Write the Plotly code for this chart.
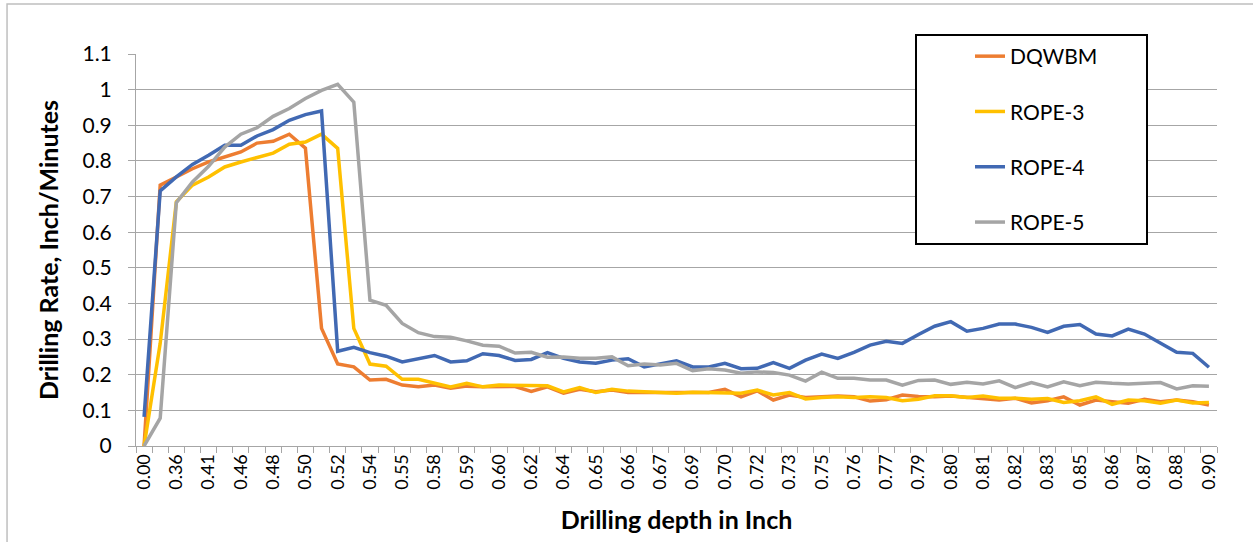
import plotly.graph_objects as go

depth = ["0.00", "0.20", "0.36", "0.39", "0.41", "0.44", "0.46", "0.47", "0.48", "0.49",
         "0.50", "0.51", "0.52", "0.53", "0.54", "0.54", "0.55", "0.57", "0.58", "0.58",
         "0.59", "0.60", "0.60", "0.61", "0.62", "0.63", "0.64", "0.64", "0.65", "0.66",
         "0.66", "0.67", "0.67", "0.68", "0.69", "0.70", "0.70", "0.71", "0.72", "0.73",
         "0.73", "0.74", "0.75", "0.75", "0.76", "0.77", "0.77", "0.78", "0.79", "0.79",
         "0.80", "0.80", "0.81", "0.82", "0.82", "0.83", "0.83", "0.84", "0.85", "0.85",
         "0.86", "0.87", "0.87", "0.88", "0.88", "0.89", "0.90"]

dqwbm = [0, 0.732, 0.755, 0.778, 0.797, 0.811, 0.825, 0.85, 0.855, 0.875,
         0.836, 0.33, 0.23, 0.222, 0.185, 0.187, 0.171, 0.166, 0.171, 0.162,
         0.168, 0.166, 0.166, 0.167, 0.153, 0.166, 0.148, 0.159, 0.152, 0.157,
         0.15, 0.15, 0.15, 0.15, 0.148, 0.15, 0.159, 0.138, 0.155, 0.129,
         0.143, 0.136, 0.138, 0.14, 0.138, 0.126, 0.13, 0.143, 0.139, 0.138,
         0.14, 0.136, 0.132, 0.129, 0.134, 0.121, 0.127, 0.138, 0.115, 0.129,
         0.124, 0.12, 0.131, 0.124, 0.129, 0.124, 0.115]

rope3 = [0, 0.288, 0.685, 0.732, 0.755, 0.783, 0.797, 0.809, 0.822, 0.847,
         0.853, 0.875, 0.835, 0.33, 0.23, 0.224, 0.187, 0.187, 0.176, 0.166,
         0.176, 0.166, 0.171, 0.17, 0.168, 0.169, 0.152, 0.164, 0.15, 0.159,
         0.154, 0.152, 0.15, 0.148, 0.151, 0.15, 0.148, 0.148, 0.157, 0.143,
         0.15, 0.132, 0.136, 0.138, 0.136, 0.138, 0.136, 0.127, 0.131, 0.141,
         0.141, 0.136, 0.14, 0.134, 0.134, 0.131, 0.133, 0.122, 0.127, 0.138,
         0.117, 0.129, 0.127, 0.12, 0.129, 0.121, 0.122]

rope4 = [0.082, 0.716, 0.755, 0.79, 0.816, 0.844, 0.844, 0.87, 0.888, 0.914,
         0.93, 0.94, 0.266, 0.277, 0.262, 0.252, 0.236, 0.244, 0.254, 0.236,
         0.239, 0.259, 0.254, 0.24, 0.243, 0.262, 0.246, 0.236, 0.232, 0.241,
         0.245, 0.222, 0.23, 0.239, 0.222, 0.222, 0.232, 0.217, 0.218, 0.234,
         0.218, 0.241, 0.258, 0.246, 0.263, 0.283, 0.294, 0.288, 0.313, 0.336,
         0.349, 0.322, 0.33, 0.342, 0.342, 0.333, 0.319, 0.336, 0.341, 0.314,
         0.309, 0.328, 0.314, 0.288, 0.263, 0.26, 0.221]

rope5 = [0, 0.078, 0.683, 0.741, 0.785, 0.839, 0.875, 0.893, 0.925, 0.947,
         0.975, 0.998, 1.015, 0.965, 0.409, 0.395, 0.344, 0.318, 0.307, 0.305,
         0.295, 0.283, 0.28, 0.261, 0.263, 0.249, 0.25, 0.246, 0.246, 0.25,
         0.225, 0.23, 0.227, 0.232, 0.211, 0.217, 0.213, 0.204, 0.208, 0.206,
         0.199, 0.182, 0.207, 0.19, 0.19, 0.185, 0.185, 0.171, 0.184, 0.185,
         0.173, 0.179, 0.174, 0.183, 0.164, 0.178, 0.166, 0.18, 0.169, 0.179,
         0.176, 0.174, 0.176, 0.178, 0.16, 0.169, 0.168]

series_names = ["DQWBM", "ROPE-3", "ROPE-4", "ROPE-5"]
series_values = [dqwbm, rope3, rope4, rope5]
series_colors = ["#ED7D31", "#FFC000", "#4169B3", "#A5A5A5"]

x_idx = list(range(len(depth)))
tick_idx = x_idx[::2]
tick_txt = depth[::2]

FONT = "Lato, 'Open Sans', sans-serif"
AXIS_GRAY = "#A6A6A6"
NBSP = "\u00a0"

fig = go.Figure()
for name, vals, col in zip(series_names, series_values, series_colors):
    fig.add_trace(go.Scatter(
        x=x_idx, y=vals, mode="lines", name=name + NBSP * 8, legendgroup=name,
        line=dict(color=col, width=3.5),
    ))

fig.update_layout(
    width=1253, height=542,
    margin=dict(l=136, r=36, t=54, b=96, autoexpand=False),
    paper_bgcolor="white", plot_bgcolor="white",
    font=dict(family=FONT, size=18, color="#000000"),
    showlegend=True,
    legend=dict(
        x=0.7206, y=1.051, xanchor="left", yanchor="top",
        bgcolor="white", bordercolor="#000000", borderwidth=2,
        font=dict(family=FONT, size=21, color="#000000"),
        tracegroupgap=25,
        title=dict(text=NBSP * 8, side="left", font=dict(family=FONT, size=21)),
    ),
    xaxis=dict(
        range=[-0.5, len(depth) - 0.5], automargin=False,
        tickmode="array", tickvals=tick_idx, ticktext=tick_txt,
        tickangle=-90, ticks="", showgrid=False, zeroline=False,
        showline=True, linecolor=AXIS_GRAY, linewidth=1,
        tickfont=dict(family=FONT, size=18),
        minor=dict(ticks="outside", tick0=-0.5, dtick=1, ticklen=6,
                   tickcolor=AXIS_GRAY, tickwidth=1, showgrid=False),
        title=dict(text="<b>Drilling depth in Inch</b>",
                   font=dict(family=FONT, size=25), standoff=22),
    ),
    yaxis=dict(
        range=[0, 1.1], dtick=0.1, tick0=0, automargin=False,
        ticks="outside", ticklen=7, tickcolor=AXIS_GRAY,
        ticklabelstandoff=12,
        showgrid=True, gridcolor=AXIS_GRAY, gridwidth=1, zeroline=False,
        showline=True, linecolor=AXIS_GRAY, linewidth=1,
        tickfont=dict(family=FONT, size=21),
        title=dict(text="<b>Drilling Rate, Inch/Minutes</b>",
                   font=dict(family=FONT, size=25), standoff=16),
    ),
    shapes=[dict(type="rect", xref="paper", yref="paper",
                 x0=-0.1193, x1=1.2, y0=-0.6, y1=1.1276,
                 line=dict(color="#BFBFBF", width=1.5), fillcolor="rgba(0,0,0,0)",
                 layer="below")],
)

fig.write_html("out.html", config={"displayModeBar": False},
               post_script="document.body.style.margin='0';")
